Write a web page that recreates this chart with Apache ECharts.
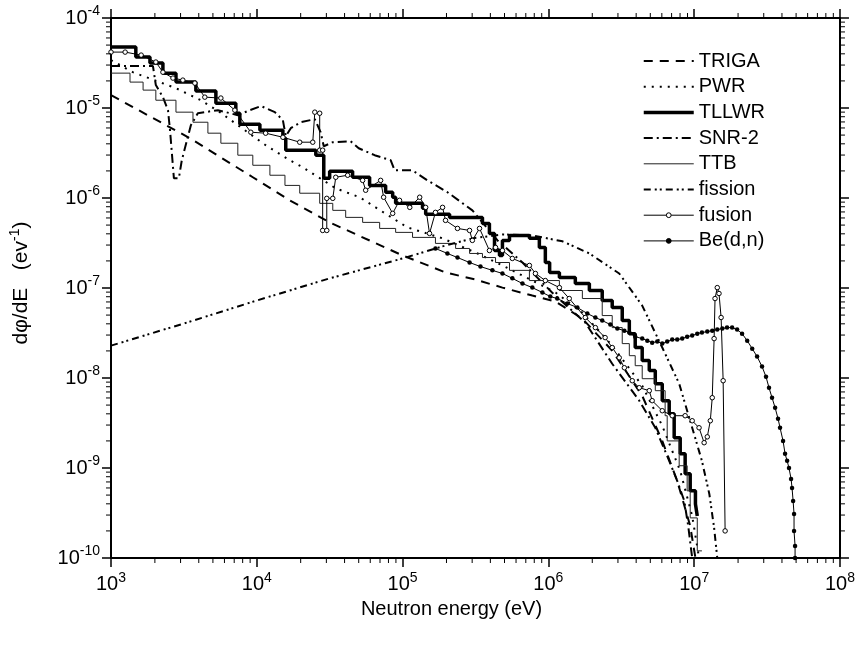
<!DOCTYPE html>
<html><head><meta charset="utf-8">
<script src="https://cdn.jsdelivr.net/npm/echarts@6/dist/echarts.min.js"></script>
<style>html,body{margin:0;padding:0;background:#fff}#c{width:858px;height:645px}</style>
</head><body><div id="c"></div><script>
const FONT = '"Liberation Sans", Arial, sans-serif';
const seriesNames = ['TRIGA','PWR','TLLWR','SNR-2','TTB','fission','fusion','Be(d,n)'];
const markerSeries = ['fusion','Be(d,n)'];
const xTickExp = [3,4,5,6,7,8];
const yTickExp = [-10,-9,-8,-7,-6,-5,-4];
const minorMult = [2,3,4,5,6,7,8,9];

const trigaData = [[1e3,1.39e-5],[3.48e3,4.61e-6],[9.39e3,1.70e-6],[1.68e4,9.42e-7],[3.16e4,5.36e-7],[1e5,2.30e-7],[1.97e5,1.49e-7],[3.16e5,1.24e-7],[4.84e5,1.01e-7],[7.76e5,8.24e-8],[1.12e6,7.07e-8],[1.71e6,4.57e-8],[2.74e6,2.01e-8],[4.40e6,6.35e-9],[6.04e6,2.00e-9],[7.65e6,7.19e-10],[9.39e6,2.27e-10],[1.02e7,1e-10]];

const pwrData = [[1e3,3.41e-5],[1.41e3,2.50e-5],[2.79e3,1.66e-5],[4.13e3,1.22e-5],[5.58e3,8.99e-6],[8.28e3,5.66e-6],[1.15e4,3.86e-6],[1.68e4,2.63e-6],[2.07e4,2.19e-6],[3.48e4,1.28e-6],[5.07e4,1.02e-6],[6.53e4,7.87e-7],[1.08e5,4.71e-7],[1.88e5,3.56e-7],[3.16e5,2.48e-7],[4.84e5,1.78e-7],[7.76e5,1.21e-7],[1.12e6,8.91e-8],[1.71e6,5.33e-8],[2.74e6,2.29e-8],[4.40e6,8.22e-9],[6.04e6,2.94e-9],[8.02e6,9.29e-10],[9.69e6,2.93e-10],[1.08e7,1e-10]];

const tllwrData = [[1e3,4.75e-5],[1.48e3,3.68e-5],[1.85e3,3.16e-5],[2.27e3,2.44e-5],[2.79e3,1.94e-5],[3.82e3,1.54e-5],[5.24e3,1.13e-5],[7.18e3,8.75e-6],[7.65e3,6.60e-6],[1.05e4,5.66e-6],[1.51e4,4.61e-6],[1.58e4,3.40e-6],[2.54e4,2.99e-6],[2.74e4,2.99e-6],[2.88e4,1.66e-6],[3.16e4,1.98e-6],[4.54e4,1.70e-6],[5.94e4,1.38e-6],[7.65e4,1.16e-6],[8.55e4,1.02e-6],[8.96e4,8.72e-7],[1.37e5,7.67e-7],[1.44e5,6.58e-7],[2.10e5,6.09e-7],[3.53e5,5.22e-7],[3.94e5,4.04e-7],[4.27e5,2.61e-7],[4.62e5,2.30e-7],[4.84e5,3.38e-7],[5.41e5,3.84e-7],[7.41e5,3.56e-7],[8.67e5,2.82e-7],[9.53e5,1.92e-7],[1.02e6,1.49e-7],[1.19e6,1.31e-7],[1.39e6,1.31e-7],[1.53e6,1.12e-7],[1.91e6,9.38e-8],[2.34e6,7.26e-8],[2.74e6,6.07e-8],[3.21e6,4.35e-8],[3.59e6,3.11e-8],[3.94e6,2.18e-8],[4.40e6,1.56e-8],[4.92e6,1.21e-8],[5.41e6,8.65e-9],[6.04e6,5.60e-9],[6.74e6,4.01e-9],[7.29e6,2.17e-9],[8.02e6,1.44e-9],[8.67e6,8.61e-10],[9.39e6,5.57e-10],[1.02e7,3.99e-10],[1.05e7,2.93e-10]];

const snr2Data = [[1e3,2.92e-5],[1.94e3,2.92e-5],[2.03e3,1.80e-5],[2.27e3,1.32e-5],[2.46e3,9.46e-6],[2.54e3,5.66e-6],[2.70e3,1.66e-6],[2.92e3,1.66e-6],[3.06e3,2.63e-6],[3.32e3,4.38e-6],[3.53e3,6.44e-6],[3.94e3,8.75e-6],[5.41e3,9.46e-6],[7.41e3,8.32e-6],[8.96e3,9.46e-6],[1.07e4,1.05e-5],[1.33e4,8.99e-6],[1.51e4,7.32e-6],[1.58e4,4.86e-6],[1.71e4,5.96e-6],[2.00e4,6.95e-6],[2.50e4,7.51e-6],[2.74e4,5.38e-6],[2.88e4,3.76e-6],[3.32e4,4.17e-6],[4.40e4,4.27e-6],[5.00e4,3.57e-6],[6.43e4,2.99e-6],[8.28e4,2.63e-6],[8.82e4,2.03e-6],[1.17e5,2.03e-6],[1.48e5,1.57e-6],[2.03e5,1.16e-6],[3.01e5,7.29e-7],[4.48e5,3.38e-7],[6.64e5,1.92e-7],[1.06e6,8.91e-8],[1.79e6,4.13e-8],[2.74e6,1.44e-8],[4.20e6,5.60e-9],[5.41e6,2.80e-9],[6.74e6,1.20e-9],[7.65e6,7.19e-10],[8.55e6,4.31e-10],[9.10e6,2.27e-10],[9.69e6,1e-10]];

const ttbData = [[1e3,2.44e-5],[1.35e3,1.94e-5],[1.66e3,1.58e-5],[2.03e3,1.22e-5],[2.79e3,8.99e-6],[3.65e3,6.95e-6],[4.62e3,5.25e-6],[5.67e3,4.06e-6],[7.41e3,2.99e-6],[9.39e3,2.31e-6],[1.23e4,1.79e-6],[1.56e4,1.38e-6],[1.97e4,1.13e-6],[2.70e4,8.72e-7],[3.32e4,7.29e-7],[4.07e4,6.09e-7],[5.32e4,5.36e-7],[6.96e4,4.59e-7],[8.96e4,4.15e-7],[1.17e5,3.65e-7],[1.68e5,3.13e-7],[2.31e5,2.75e-7],[2.88e5,2.42e-7],[3.53e5,2.18e-7],[4.34e5,1.92e-7],[5.41e5,1.57e-7],[7.41e5,1.21e-7],[1.19e6,9.38e-8],[1.71e6,7.64e-8],[2.34e6,4.94e-8],[2.74e6,3.63e-8],[3.21e6,2.41e-8],[3.59e6,1.77e-8],[3.94e6,1.37e-8],[4.40e6,9.82e-9],[5.41e6,7.23e-9],[6.32e6,3.81e-9],[6.53e6,2.00e-9],[7.89e6,1.06e-9],[8.95e6,5.57e-10],[9.39e6,2.79e-10],[1.05e7,1.20e-10],[1.13e7,1.20e-10]];

const fissionData = [[1e3,2.29e-8],[3.16e3,4.03e-8],[1e4,7.26e-8],[3.16e4,1.28e-7],[1e5,2.13e-7],[1.88e5,2.90e-7],[3.01e5,3.56e-7],[4.84e5,3.94e-7],[7.76e5,3.84e-7],[1.25e6,3.30e-7],[1.91e6,2.42e-7],[3.06e6,1.45e-7],[4.40e6,6.38e-8],[6.04e6,2.18e-8],[7.89e6,8.65e-9],[9.69e6,2.80e-9],[1.13e7,1.20e-9],[1.27e7,5.15e-10],[1.37e7,2.16e-10],[1.44e7,1e-10]];

const fusionData = [[1e3,4.18e-5],[1.25e3,4.18e-5],[1.61e3,3.87e-5],[2.03e3,3.24e-5],[2.27e3,2.50e-5],[2.66e3,2.15e-5],[3.11e3,2.04e-5],[3.76e3,1.89e-5],[4.40e3,1.32e-5],[5.67e3,1.29e-5],[7.07e3,9.46e-6],[9.10e3,5.38e-6],[1.15e4,5.25e-6],[1.51e4,4.73e-6],[1.97e4,4.17e-6],[2.42e4,4.17e-6],[2.50e4,8.99e-6],[2.70e4,8.75e-6],[2.70e4,3.40e-6],[2.83e4,3.40e-6],[2.83e4,4.36e-7],[3.02e4,4.36e-7],[3.02e4,9.91e-7],[3.32e4,9.91e-7],[3.48e4,1.70e-6],[4.20e4,1.79e-6],[5.32e4,1.57e-6],[5.58e4,1.22e-6],[7.07e4,1.57e-6],[7.41e4,1.02e-6],[8.55e4,6.75e-7],[9.53e4,9.42e-7],[1.12e5,7.87e-7],[1.31e5,1.02e-6],[1.44e5,7.87e-7],[1.53e5,4.04e-7],[1.68e5,6.92e-7],[1.88e5,7.87e-7],[1.97e5,5.64e-7],[2.38e5,4.59e-7],[2.88e5,4.36e-7],[3.01e5,3.38e-7],[3.37e5,4.59e-7],[3.94e5,2.61e-7],[4.34e5,2.82e-7],[4.84e5,2.61e-7],[5.66e5,2.13e-7],[7.41e5,1.78e-7],[8.15e5,1.45e-7],[9.53e5,1.21e-7],[1.19e6,1.01e-7],[1.39e6,7.64e-8],[1.79e6,4.70e-8],[2.10e6,3.63e-8],[2.45e6,2.81e-8],[2.74e6,2.18e-8],[3.06e6,1.68e-8],[3.32e6,1.30e-8],[3.76e6,9.33e-9],[4.20e6,7.80e-9],[4.92e6,7.23e-9],[5.15e6,5.60e-9],[6.04e6,4.33e-9],[7.07e6,3.81e-9],[8.67e6,3.81e-9],[9.69e6,3.35e-9],[1.08e7,2.80e-9],[1.17e7,1.91e-9],[1.23e7,2.22e-9],[1.29e7,3.35e-9],[1.33e7,6.04e-9],[1.37e7,2.74e-8],[1.39e7,7.64e-8],[1.44e7,1.01e-7],[1.48e7,8.69e-8],[1.53e7,4.70e-8],[1.58e7,9.33e-9],[1.63e7,2.00e-10]];

const bednData = [[1.68e5,2.75e-7],[2.03e5,2.42e-7],[2.38e5,2.18e-7],[2.88e5,1.92e-7],[3.42e5,1.73e-7],[4.13e5,1.57e-7],[4.84e5,1.45e-7],[5.66e5,1.28e-7],[6.64e5,1.12e-7],[7.76e5,1.01e-7],[9.10e5,8.91e-8],[1.03e6,8.04e-8],[1.15e6,7.64e-8],[1.35e6,6.72e-8],[1.58e6,6.07e-8],[1.85e6,5.20e-8],[2.10e6,4.70e-8],[2.34e6,4.35e-8],[2.66e6,3.92e-8],[2.97e6,3.54e-8],[3.32e6,3.36e-8],[3.59e6,3.20e-8],[3.94e6,2.88e-8],[4.40e6,2.74e-8],[4.77e6,2.60e-8],[5.15e6,2.47e-8],[5.58e6,2.54e-8],[6.04e6,2.41e-8],[6.53e6,2.54e-8],[7.07e6,2.67e-8],[7.65e6,2.67e-8],[8.28e6,2.74e-8],[8.95e6,2.88e-8],[9.69e6,2.96e-8],[1.05e7,3.11e-8],[1.13e7,3.20e-8],[1.23e7,3.28e-8],[1.33e7,3.36e-8],[1.44e7,3.45e-8],[1.56e7,3.54e-8],[1.68e7,3.63e-8],[1.82e7,3.63e-8],[1.97e7,3.45e-8],[2.13e7,3.11e-8],[2.31e7,2.60e-8],[2.50e7,2.12e-8],[2.70e7,1.73e-8],[2.92e7,1.34e-8],[3.11e7,1.03e-8],[3.26e7,7.80e-9],[3.42e7,6.04e-9],[3.59e7,4.67e-9],[3.76e7,3.53e-9],[3.88e7,2.80e-9],[4.07e7,2.00e-9],[4.20e7,1.44e-9],[4.34e7,1.20e-9],[4.47e7,1.00e-9],[4.62e7,7.57e-10],[4.69e7,6.01e-10],[4.77e7,4.31e-10],[4.84e7,3.09e-10],[4.84e7,2.00e-10],[4.92e7,1.36e-10],[4.92e7,1e-10]];

const X_MIN = Math.pow(10, xTickExp[0]), X_MAX = Math.pow(10, xTickExp[xTickExp.length-1]);
const Y_MIN = Math.pow(10, yTickExp[0]), Y_MAX = Math.pow(10, yTickExp[yTickExp.length-1]);
const xMinor = []; xTickExp.slice(0,-1).forEach(d => minorMult.forEach(m => xMinor.push([m*Math.pow(10,d), Y_MIN])));
const yMinor = []; yTickExp.slice(0,-1).forEach(d => minorMult.forEach(m => yMinor.push([X_MIN, m*Math.pow(10,d)])));

function expLabel(list){
  return function(v){
    const lv = Math.log10(v);
    const e = list.find(k => Math.abs(lv - k) < 0.01);
    return e === undefined ? '' : '{b|10}{s|' + e + '}';
  };
}
const labelRich = {
  b: {fontSize: 20, fontFamily: FONT, color: '#000', lineHeight: 27},
  s: {fontSize: 14, fontFamily: FONT, color: '#000', verticalAlign: 'top', lineHeight: 15}
};
const axisCommon = {
  type: 'log', logBase: 10,
  axisLine: {show: true, onZero: false, lineStyle: {color: '#000', width: 2}},
  axisTick: {show: true, inside: false, length: 9, lineStyle: {color: '#000', width: 1.5}},
  splitLine: {show: false}, minorTick: {show: false}, minorSplitLine: {show: false}
};
const INK = '#000';
const styles = {
  'TRIGA':   {width: 2, type: [9, 7]},
  'PWR':     {width: 2, type: [2, 6]},
  'TLLWR':   {width: 3.5, type: 'solid'},
  'SNR-2':   {width: 2, type: [9, 4, 2, 4]},
  'TTB':     {width: 1, type: 'solid', color: '#222'},
  'fission': {width: 2, type: [7, 4, 2, 3, 2, 4]},
  'fusion':  {width: 1, type: 'solid'},
  'Be(d,n)': {width: 1, type: 'solid'}
};
function lineSeries(name, data, extra){
  return Object.assign({
    name, type: 'line', data, xAxisIndex: 0, yAxisIndex: 0,
    symbol: 'none', showSymbol: false, smooth: false, animation: false,
    lineStyle: Object.assign({color: INK}, styles[name]),
    itemStyle: {color: INK}, emphasis: {disabled: true}
  }, extra || {});
}
function tickRender(horizontal){
  return function(params, api){
    const a = api.value(0), b = api.value(1);
    const len = 5;
    if (horizontal) {
      const p1 = api.coord([a, Y_MIN]), p2 = api.coord([a, Y_MAX]);
      return {type: 'group', children: [
        {type: 'line', shape: {x1: p1[0], y1: p1[1], x2: p1[0], y2: p1[1] + len}, style: {stroke: '#000', lineWidth: 1}},
        {type: 'line', shape: {x1: p2[0], y1: p2[1], x2: p2[0], y2: p2[1] - len}, style: {stroke: '#000', lineWidth: 1}}
      ]};
    } else {
      const p1 = api.coord([X_MIN, b]), p2 = api.coord([X_MAX, b]);
      return {type: 'group', children: [
        {type: 'line', shape: {x1: p1[0], y1: p1[1], x2: p1[0] - len, y2: p1[1]}, style: {stroke: '#000', lineWidth: 1}},
        {type: 'line', shape: {x1: p2[0], y1: p2[1], x2: p2[0] + len, y2: p2[1]}, style: {stroke: '#000', lineWidth: 1}}
      ]};
    }
  };
}

const legendData = seriesNames.map(n => {
  const item = {name: n, lineStyle: {width: styles[n].width, type: styles[n].type, color: styles[n].color || INK}};
  if (markerSeries.indexOf(n) < 0) item.itemStyle = {opacity: 0};
  else item.itemStyle = {borderWidth: 1};
  return item;
});

const chart = echarts.init(document.getElementById('c'), null, {renderer: 'canvas'});
chart.setOption({
  animation: false,
  backgroundColor: '#fff',
  textStyle: {fontFamily: FONT},
  grid: {left: 110, right: 17, top: 18, bottom: 87, containLabel: false},
  legend: {
    orient: 'vertical', left: 637, top: 46, itemWidth: 50, itemHeight: 6, itemGap: 5.7,
    data: legendData, selectedMode: false,
    textStyle: {fontSize: 20, color: '#000', fontFamily: FONT}
  },
  xAxis: [
    Object.assign({}, axisCommon, {
      position: 'bottom', min: X_MIN, max: X_MAX, interval: 1,
      axisLabel: {show: true, margin: 13, formatter: expLabel(xTickExp), rich: labelRich},
      name: 'Neutron energy (eV)', nameLocation: 'middle', nameGap: 40,
      nameTextStyle: {fontSize: 20, color: '#000', fontFamily: FONT, padding: [0, 48, 0, 0]}
    }),
    Object.assign({}, axisCommon, {
      position: 'top', min: X_MIN, max: X_MAX, interval: 1, axisLabel: {show: false}
    })
  ],
  yAxis: [
    Object.assign({}, axisCommon, {
      position: 'left', min: Y_MIN, max: Y_MAX, interval: 1,
      axisLabel: {show: true, margin: 11, formatter: expLabel(yTickExp), rich: labelRich},
      name: '{a|dφ/dE   (ev}{s|-1}{a|)}', nameLocation: 'middle', nameGap: 76,
      nameTextStyle: {padding: [0, 0, 0, 10], rich: {
        a: {fontSize: 21, fontFamily: FONT, color: '#000', lineHeight: 27},
        s: {fontSize: 14, fontFamily: FONT, color: '#000', verticalAlign: 'top', lineHeight: 15}
      }}
    }),
    Object.assign({}, axisCommon, {
      position: 'right', min: Y_MIN, max: Y_MAX, interval: 1, axisLabel: {show: false}
    })
  ],
  series: [
    lineSeries('TRIGA', trigaData),
    lineSeries('PWR', pwrData),
    lineSeries('TLLWR', tllwrData, {step: 'end'}),
    lineSeries('SNR-2', snr2Data),
    lineSeries('TTB', ttbData, {step: 'end'}),
    lineSeries('fission', fissionData),
    lineSeries('fusion', fusionData, {
      symbol: 'circle', showSymbol: true, showAllSymbol: true, symbolSize: 4.5,
      itemStyle: {color: '#fff', borderColor: '#000', borderWidth: 1}
    }),
    lineSeries('Be(d,n)', bednData, {
      symbol: 'circle', showSymbol: true, showAllSymbol: true, symbolSize: 4.5,
      itemStyle: {color: '#000', borderColor: '#000', borderWidth: 0}
    }),
    {type: 'custom', name: 'xminor', data: xMinor, renderItem: tickRender(true), silent: true, clip: false, animation: false, z: 5},
    {type: 'custom', name: 'yminor', data: yMinor, renderItem: tickRender(false), silent: true, clip: false, animation: false, z: 5}
  ]
});
</script></body></html>
